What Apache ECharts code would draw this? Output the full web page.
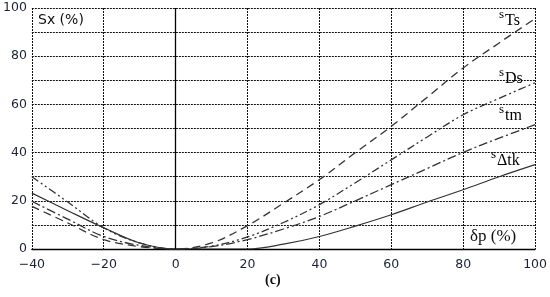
<!DOCTYPE html>
<html>
<head>
<meta charset="utf-8">
<script src="https://cdn.jsdelivr.net/npm/echarts@6/dist/echarts.min.js"></script>
<style>
  html, body { margin: 0; padding: 0; background: #fff; }
  #chart { width: 550px; height: 297px; }
</style>
</head>
<body>
<div id="chart"></div>
<script>
// delta p (%) sample points
const dp = [-40, -30, -20, -10, 0, 10, 20, 30, 40, 50, 60, 70, 80, 90, 100]
// in %
const sTs = [17.7, 10.8, 3.9, 1.0, 0, 2.5, 9.7, 19, 28.8, 40, 50.9, 63, 75.1, 85.5, 95.6]
const sDs = [30, 19.5, 8.8, 2.5, 0, 1.2, 5, 11, 18.4, 27.5, 37, 46.5, 55.7, 62.5, 69]
const sTm = [19.8, 12.4, 5.2, 1.5, 0, 1, 3.9, 8.3, 13.5, 20, 26.7, 33.4, 40.1, 46, 51.6]
const sDtk = [23.2, 15.9, 8.8, 2.5, 0, 0, 0, 2, 5.2, 9.5, 14.2, 19.5, 24.6, 30, 35]
const xTicks = [-40, -20, 0, 20, 40, 60, 80, 100]
const yTicks = [0, 20, 40, 60, 80, 100]

const pair = arr => dp.map((x, i) => [x, arr[i]])
const gridLine = { show: true, lineStyle: { color: '#111', type: [2, 1], width: 1 } }
const labelFont = { color: '#1c2233', fontSize: 12.5, fontFamily: 'DejaVu Sans' }

function lineSeries(name, values, dash, width) {
    return {
        name: name,
        type: 'line',
        data: pair(values),
        smooth: 0.35,
        symbol: 'none',
        lineStyle: { color: '#333', width: width || 1.3, type: dash }
    }
}

const series = [
    lineSeries('sTs', sTs, [8, 5]),
    lineSeries('sDs', sDs, [8, 3, 2, 3, 2, 3]),
    lineSeries('stm', sTm, [9, 3, 2, 3]),
    lineSeries('sΔtk', sDtk, 'solid', 1.2)
]
series[3].markLine = {
    silent: true,
    symbol: 'none',
    label: { show: false },
    lineStyle: { color: '#000', type: 'solid', width: 1.3 },
    data: [{ xAxis: 0 }]
}

const sub = { fontFamily: 'Liberation Serif', fontSize: 16, color: '#111', padding: [7, 0, 0, 0] }
const sup = { fontFamily: 'Liberation Serif', fontSize: 13, color: '#111', padding: [0, 1, 5, 0] }
const txt = (size, family, weight) => ({ fontSize: size, fontFamily: family, fontWeight: weight || 'normal', fill: '#111' })

const options = {
    animation: false,
    grid: { left: 29, right: 8, top: 8, bottom: 48 },
    xAxis: {
        type: 'value',
        min: -40,
        max: 100,
        interval: 20,
        axisLine: { show: true, onZero: false, lineStyle: { color: '#000', width: 1.3 } },
        axisTick: { show: false },
        axisLabel: Object.assign({ margin: 9, formatter: v => xTicks.includes(v) ? String(v).replace('-', '\u2212') : '' }, labelFont),
        splitLine: gridLine
    },
    yAxis: {
        type: 'value',
        min: 0,
        max: 100,
        interval: 10,
        axisLine: { show: false },
        axisTick: { show: false },
        axisLabel: Object.assign({ margin: 5, formatter: v => yTicks.includes(v) ? String(v) : '' }, labelFont),
        splitLine: gridLine
    },
    graphic: [
        { type: 'text', left: 38, top: 13, style: Object.assign({ text: 'Sx (%)' }, txt(14, 'DejaVu Sans')) },
        { type: 'text', left: 470, top: 228, style: Object.assign({ text: 'δp (%)' }, txt(17, 'Liberation Serif')) },
        { type: 'text', left: 499, top: 8, style: { text: '{a|s}{b|Ts}', rich: { a: sup, b: sub } } },
        { type: 'text', left: 499, top: 66, style: { text: '{a|s}{b|Ds}', rich: { a: sup, b: sub } } },
        { type: 'text', left: 499, top: 103, style: { text: '{a|s}{b|tm}', rich: { a: sup, b: sub } } },
        { type: 'text', left: 491, top: 148, style: { text: '{a|s}{b|Δtk}', rich: { a: sup, b: sub } } },
        { type: 'text', left: 265, top: 273, style: Object.assign({ text: '(c)' }, txt(14, 'Liberation Serif', 'bold')) }
    ],
    series: series
}

const chart = echarts.init(document.getElementById('chart'), null, { renderer: 'canvas' })
chart.setOption(options)
</script>
</body>
</html>
